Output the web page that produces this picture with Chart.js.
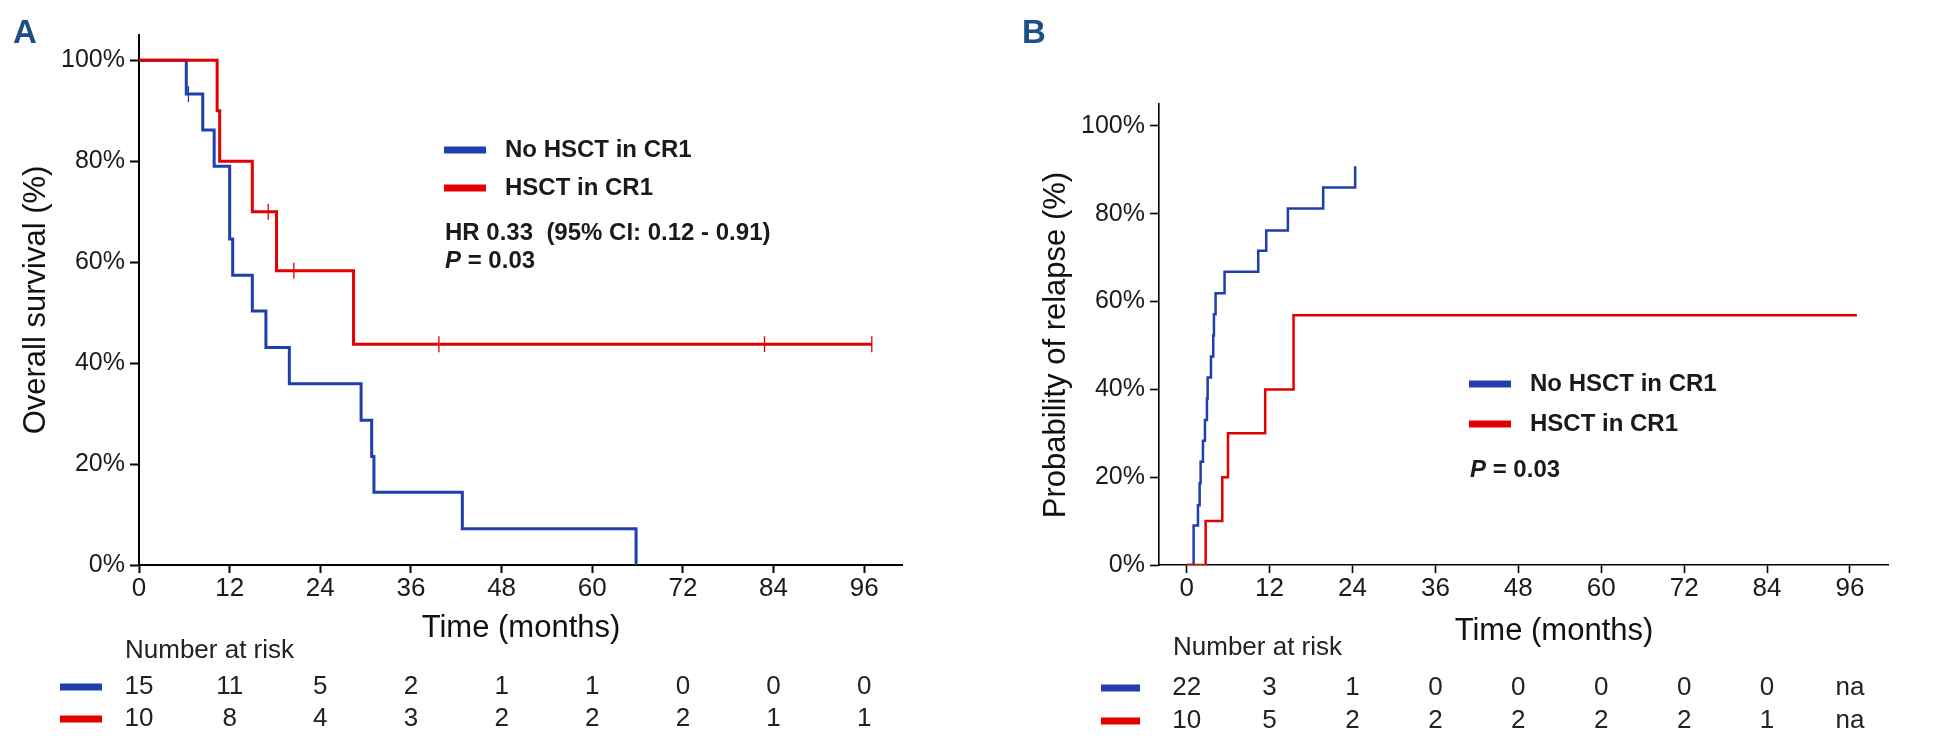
<!DOCTYPE html>
<html><head><meta charset="utf-8">
<script src="https://cdn.jsdelivr.net/npm/chart.js@4.4.1/dist/chart.umd.min.js"></script>
<style>
html,body{margin:0;padding:0;background:#fff;overflow:hidden}
#wrap{position:relative;width:1948px;height:754px;background:#fff}
canvas{position:absolute;top:0}
#ca{left:0}
#cb{left:974px}
</style></head><body>
<div id="wrap"><canvas id="ca" width="974" height="754"></canvas><canvas id="cb" width="974" height="754"></canvas></div>
<script>
// ---------- shared ----------
const xTicks = [0, 12, 24, 36, 48, 60, 72, 84, 96];
const yTicks = [0, 20, 40, 60, 80, 100];
const seriesNames = ['No HSCT in CR1', 'HSCT in CR1'];

// ---------- Panel A: overall survival ----------
const osNoTime = [0, 6.26, 8.44, 9.95, 12.0, 12.4, 15.0, 16.8, 19.9, 29.4, 30.8, 31.1, 42.8, 65.8];
const osNoSurv = [100, 93.3, 86.2, 79.0, 64.6, 57.4, 50.3, 43.1, 35.9, 28.7, 21.5, 14.4, 7.2, 0];
const osNoCensT = [6.54];
const osNoCensV = [93.3];
const osHsTime = [0, 10.34, 10.68, 15.0, 18.2, 28.4, 97.0];
const osHsSurv = [100, 90, 80, 70, 58.3, 43.75, 43.75];
const osHsCensT = [17.1, 20.5, 39.7, 82.8, 97.0];
const osHsCensV = [70, 58.3, 43.75, 43.75, 43.75];
const riskA_No = ['15', '11', '5', '2', '1', '1', '0', '0', '0'];
const riskA_Hs = ['10', '8', '4', '3', '2', '2', '2', '1', '1'];

// ---------- Panel B: probability of relapse ----------
const relNoTime = [0, 1.01, 1.64, 1.88, 2.02, 2.36, 2.65, 2.94, 3.04, 3.52, 3.85, 3.95, 4.19, 5.49, 10.36, 11.52, 14.65, 19.76, 24.39];
const relNoProb = [0, 9.0, 13.6, 18.6, 23.5, 28.3, 33.0, 37.9, 42.7, 47.5, 52.3, 57.1, 61.9, 66.8, 71.6, 76.2, 81.2, 86.0, 90.8];
const relHsTime = [0, 2.75, 5.16, 5.98, 11.37, 15.47, 97.0];
const relHsProb = [0, 10, 20, 30, 40, 56.9, 56.9];
const riskB_No = ['22', '3', '1', '0', '0', '0', '0', '0', 'na'];
const riskB_Hs = ['10', '5', '2', '2', '2', '2', '2', '1', 'na'];

const BLUE = '#1f3fae';
const RED = '#e20000';
const FONT = '"Liberation Sans", Arial, Helvetica, sans-serif';
Chart.defaults.font.family = FONT;

function zip(xs, ys) { return xs.map((x, i) => ({ x: x, y: ys[i] })); }

const overlay = {
  id: 'overlay',
  afterDraw(chart, args, o) {
    const ctx = chart.ctx;
    const xs = chart.scales.x;
    ctx.save();
    // panel letter
    ctx.fillStyle = '#1c4f88';
    ctx.font = 'bold 33px ' + FONT;
    ctx.textAlign = 'left'; ctx.textBaseline = 'middle';
    ctx.fillText(o.letter, o.letterX, 34);
    // axis titles
    ctx.fillStyle = '#111';
    ctx.font = '31px ' + FONT;
    ctx.textAlign = 'center'; ctx.textBaseline = 'middle';
    ctx.fillText('Time (months)', o.xTitleX, o.xTitleY);
    ctx.save();
    ctx.translate(o.yTitleX, o.yTitleY);
    ctx.rotate(-Math.PI / 2);
    ctx.fillText(o.yTitle, 0, 0);
    ctx.restore();
    // legend
    const cols = [BLUE, RED];
    ctx.font = 'bold 24px ' + FONT;
    ctx.textAlign = 'left';
    for (let i = 0; i < 2; i++) {
      const y = o.legY[i];
      ctx.fillStyle = cols[i];
      ctx.fillRect(o.legX, y - 3.5, 42, 7);
      ctx.fillStyle = '#1a1a1a';
      ctx.fillText(seriesNames[i], o.legX + 61, y);
    }
    if (o.hr) ctx.fillText(o.hr, o.legX + 1, o.hrY);
    ctx.font = 'italic bold 24px ' + FONT;
    ctx.fillText('P', o.legX + 1, o.pY);
    const pw = ctx.measureText('P').width;
    ctx.font = 'bold 24px ' + FONT;
    ctx.fillText(' = 0.03', o.legX + 1 + pw, o.pY);
    // number at risk
    ctx.font = '26px ' + FONT;
    ctx.fillStyle = '#222';
    ctx.fillText('Number at risk', o.narX, o.narY);
    ctx.textAlign = 'center';
    const rows = [o.riskNo, o.riskHs];
    for (let r = 0; r < 2; r++) {
      const y = o.rowY[r];
      ctx.fillStyle = cols[r];
      ctx.fillRect(o.mkX0, y - 3.5, o.mkX1 - o.mkX0, 7);
      ctx.fillStyle = '#222';
      rows[r].forEach((v, i) => ctx.fillText(v, xs.getPixelForValue(xTicks[i]), y));
    }
    ctx.restore();
  }
};

function makeChart(id, cfg) {
  return new Chart(document.getElementById(id), {
    type: 'line',
    data: { datasets: cfg.datasets },
    options: {
      responsive: false, animation: false, devicePixelRatio: 1,
      layout: { padding: cfg.padding },
      plugins: { legend: { display: false }, tooltip: { enabled: false }, overlay: cfg.overlay },
      scales: {
        x: {
          type: 'linear', min: cfg.xMin, max: cfg.xMax,
          afterBuildTicks: s => { s.ticks = xTicks.map(v => ({ value: v })); },
          afterFit: s => { s.height = cfg.xHeight; },
          ticks: { font: { size: 26 }, color: '#1a1a1a', padding: 0, maxRotation: 0, autoSkip: false },
          grid: { drawOnChartArea: false, drawTicks: true, tickLength: 8, tickWidth: cfg.axisW, tickColor: '#000' },
          border: { display: true, color: '#000', width: cfg.axisW }
        },
        y: {
          min: 0, max: 105,
          afterBuildTicks: s => { s.ticks = yTicks.map(v => ({ value: v })); },
          afterFit: s => { s.width = cfg.yWidth; },
          ticks: { font: { size: 25 }, color: '#1a1a1a', padding: 5, callback: v => v + '%' },
          grid: { drawOnChartArea: false, drawTicks: true, tickLength: 9, tickWidth: cfg.axisW, tickColor: '#000' },
          border: { display: true, color: '#000', width: cfg.axisW }
        }
      }
    },
    plugins: [overlay]
  });
}

function stepDs(xs, ys, color, w) {
  return { data: zip(xs, ys), borderColor: color, borderWidth: w, stepped: true, pointRadius: 0, fill: false, order: 1 };
}
function censDs(xs, ys, color) {
  return { data: zip(xs, ys), showLine: false, pointStyle: 'line', rotation: 90, pointRadius: 8,
           pointBorderWidth: 1.3, pointBorderColor: color, pointBackgroundColor: color, order: 0 };
}

makeChart('ca', {
  datasets: [
    stepDs(osHsTime, osHsSurv, RED, 3),
    stepDs(osNoTime, osNoSurv, BLUE, 3),
    censDs(osHsCensT, osHsCensV, RED),
    censDs(osNoCensT, osNoCensV, BLUE)
  ],
  padding: { left: 0, right: 72, top: 35, bottom: 0 },
  xMin: 0, xMax: 101, xHeight: 189, yWidth: 139, axisW: 2,
  overlay: {
    letter: 'A', letterX: 13,
    yTitle: 'Overall survival (%)', yTitleX: 36, yTitleY: 300,
    xTitleX: 521, xTitleY: 628,
    legX: 444, legY: [150, 188], hr: 'HR 0.33  (95% CI: 0.12 - 0.91)', hrY: 233, pY: 261,
    narX: 125, narY: 651, rowY: [687, 719], mkX0: 60, mkX1: 102,
    riskNo: riskA_No, riskHs: riskA_Hs
  }
});

makeChart('cb', {
  datasets: [
    stepDs(relHsTime, relHsProb, RED, 2.5),
    stepDs(relNoTime, relNoProb, BLUE, 2.5)
  ],
  padding: { left: 0, right: 60, top: 104, bottom: 0 },
  xMin: -4, xMax: 101.5, xHeight: 189, yWidth: 185, axisW: 1.6,
  overlay: {
    letter: 'B', letterX: 48,
    yTitle: 'Probability of relapse (%)', yTitleX: 82, yTitleY: 345,
    xTitleX: 580, xTitleY: 631,
    legX: 495, legY: [384, 424], hr: null, hrY: 0, pY: 470,
    narX: 199, narY: 648, rowY: [688, 721], mkX0: 127, mkX1: 166,
    riskNo: riskB_No, riskHs: riskB_Hs
  }
});
</script>
</body></html>
